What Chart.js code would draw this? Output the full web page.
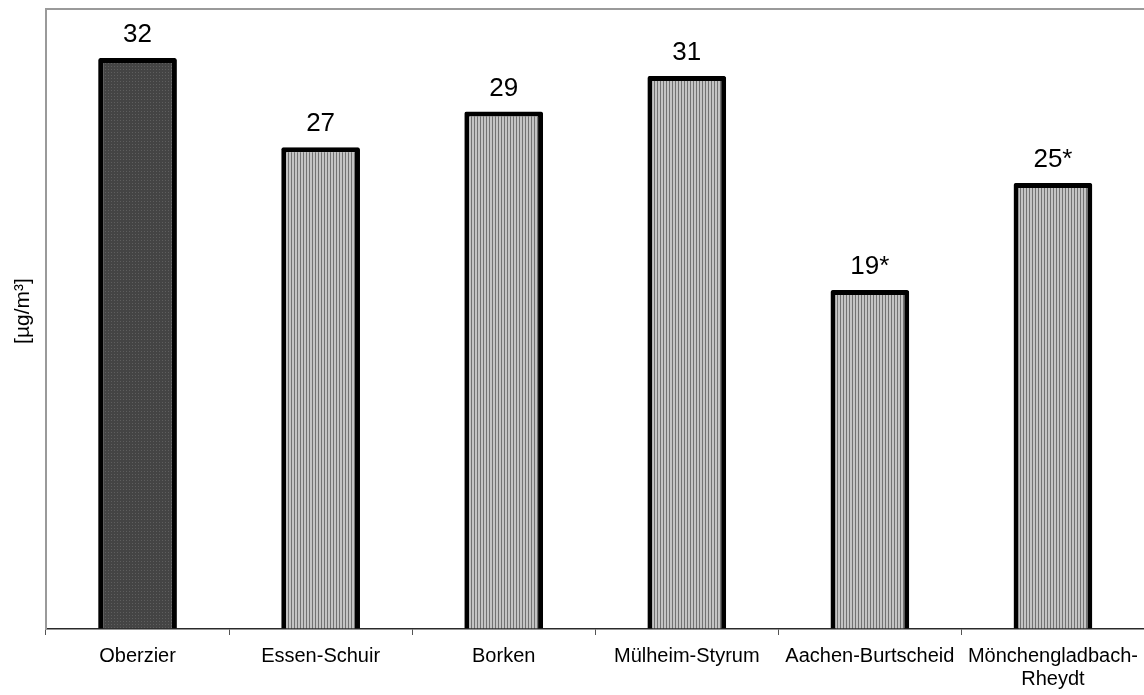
<!DOCTYPE html>
<html>
<head>
<meta charset="utf-8">
<script src="https://cdn.jsdelivr.net/npm/chart.js@4/dist/chart.umd.min.js"></script>
<style>
  html, body { margin: 0; padding: 0; background: #fff; overflow: hidden; }
  #wrap { width: 1148px; height: 695px; position: relative; }
</style>
</head>
<body>
<div id="wrap"><canvas id="chart"></canvas></div>
<script>
// Measuring stations
const stations = ['Oberzier', 'Essen-Schuir', 'Borken', 'Mülheim-Styrum', 'Aachen-Burtscheid', ['Mönchengladbach-', 'Rheydt']];
// Annual mean concentration in µg/m³
const values = [32, 27, 29, 31, 19, 25];
// Footnote markers appended to the value labels
const footnoteMarks = ['', '', '', '', '*', '*'];
const yTitle = '[µg/m³]';
const Y_MIN = 0;
const Y_MAX = 34.75;

// Fill patterns: fine dots for the first station, vertical hatching for the others
function makePattern(w, h, paint) {
  const c = document.createElement('canvas');
  c.width = w; c.height = h;
  const g = c.getContext('2d');
  paint(g);
  return document.getElementById('chart').getContext('2d').createPattern(c, 'repeat');
}
const dotPattern = makePattern(3, 3, g => {
  g.fillStyle = '#444444'; g.fillRect(0, 0, 3, 3);
  g.fillStyle = '#5e5e5e'; g.fillRect(0, 0, 1, 1);
});
const stripePattern = makePattern(3, 1, g => {
  g.fillStyle = '#c4c4c4'; g.fillRect(0, 0, 3, 1);
  g.fillStyle = '#727272'; g.fillRect(0, 0, 1, 1);
});
const fills = values.map((v, i) => i === 0 ? dotPattern : stripePattern);

const FONT = "'Liberation Sans', Arial, sans-serif";

// Value labels above each bar
const valueLabels = {
  id: 'valueLabels',
  afterDatasetsDraw(chart) {
    const ctx = chart.ctx;
    const meta = chart.getDatasetMeta(0);
    ctx.save();
    ctx.font = '26px ' + FONT;
    ctx.fillStyle = '#000';
    ctx.textAlign = 'center';
    ctx.textBaseline = 'alphabetic';
    meta.data.forEach((bar, i) => {
      ctx.fillText(String(values[i]) + footnoteMarks[i], bar.x, bar.y - 16);
    });
    ctx.restore();
  }
};

// Upper frame line of the plot area and the vertical axis title
const frameAndTitle = {
  id: 'frameAndTitle',
  beforeDatasetsDraw(chart) {
    const { ctx, chartArea } = chart;
    ctx.save();
    ctx.strokeStyle = '#9a9a9a';
    ctx.lineWidth = 2;
    ctx.beginPath();
    ctx.moveTo(chartArea.left, chartArea.top);
    ctx.lineTo(chart.width, chartArea.top);
    ctx.stroke();

    ctx.translate(23, 311);
    ctx.rotate(-Math.PI / 2);
    ctx.font = '21px ' + FONT;
    ctx.fillStyle = '#000';
    ctx.textAlign = 'center';
    ctx.textBaseline = 'middle';
    ctx.fillText(yTitle, 0, 0);
    ctx.restore();
  }
};

new Chart(document.getElementById('chart'), {
  type: 'bar',
  data: {
    labels: stations,
    datasets: [{
      data: values,
      backgroundColor: fills,
      borderColor: '#000',
      borderWidth: 5,
      borderRadius: 2,
      borderSkipped: 'start',
      barPercentage: 0.43,
      categoryPercentage: 1
    }]
  },
  options: {
    responsive: true,
    maintainAspectRatio: false,
    animation: false,
    events: [],
    layout: { padding: { top: 9, right: 0, bottom: 0, left: 0 } },
    plugins: {
      legend: { display: false },
      tooltip: { enabled: false }
    },
    scales: {
      x: {
        offset: true,
        grid: {
          display: true,
          offset: true,
          drawOnChartArea: false,
          drawTicks: true,
          tickLength: 6,
          color: '#555',
          lineWidth: 1
        },
        border: { display: true, color: '#2a2a2a', width: 1.5 },
        ticks: {
          color: '#000',
          font: { family: FONT, size: 20, lineHeight: 1.15 },
          padding: 10,
          maxRotation: 0,
          autoSkip: false
        },
        afterFit(scale) { scale.height = 66; }
      },
      y: {
        min: Y_MIN,
        max: Y_MAX,
        grid: { display: true, drawOnChartArea: false, drawTicks: false },
        border: { display: true, color: '#9a9a9a', width: 2 },
        ticks: { display: false },
        afterFit(scale) { scale.width = 46; }
      }
    }
  },
  plugins: [frameAndTitle, valueLabels]
});
</script>
</body>
</html>
